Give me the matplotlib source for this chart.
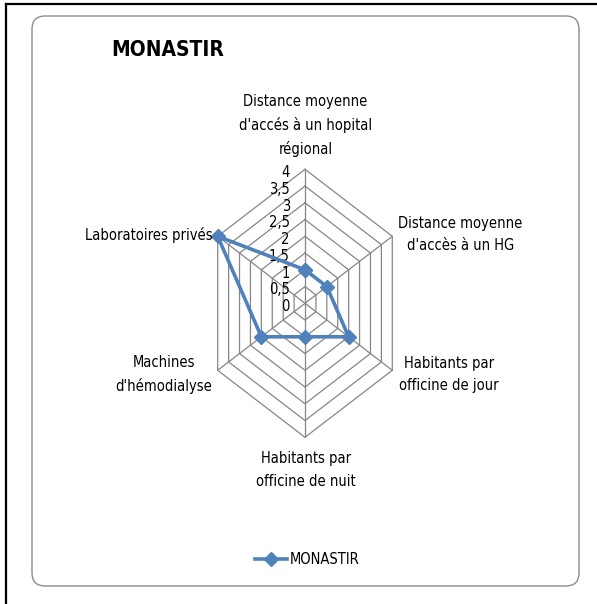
import matplotlib
matplotlib.use("Agg")
import matplotlib.pyplot as plt
import numpy as np
from matplotlib.patches import FancyBboxPatch
from matplotlib.lines import Line2D

plt.rcParams['font.family'] = ['Liberation Sans Narrow', 'DejaVu Sans']
plt.rcParams['font.stretch'] = 'condensed'

# data
categories = ["Distance moyenne\nd'accés à un hopital\nrégional",
              "Distance moyenne\nd'accès à un HG",
              "Habitants par\nofficine de jour",
              "Habitants par\nofficine de nuit",
              "Machines\nd'hémodialyse",
              "Laboratoires privés"]
values = [1, 1, 2, 1, 2, 4]
series_name = "MONASTIR"
ticks = [0, 0.5, 1, 1.5, 2, 2.5, 3, 3.5, 4]
tick_labels = ["0", "0,5", "1", "1,5", "2", "2,5", "3", "3,5", "4"]

W, H = 597, 604
blue = '#4F81BD'
grid_col = '#868686'
fs = 10.5

def fx(px):
    return px / W

def fy(py):
    return 1 - py / H

fig = plt.figure(figsize=(W / 100, H / 100), dpi=100)

# frame: black lines on left/top, rounded grey box
fig.add_artist(Line2D([fx(6), fx(6)], [fy(4), 0], color='black', lw=1.6, zorder=-2))
fig.add_artist(Line2D([fx(6), 1], [fy(4), fy(4)], color='black', lw=1.6, zorder=-2))
box = FancyBboxPatch((fx(32), fy(586)), fx(579) - fx(32), fy(16) - fy(586),
                     boxstyle="round,pad=0,rounding_size=0.022",
                     transform=fig.transFigure, facecolor='white',
                     edgecolor='#8C8C8C', lw=1.0, zorder=-1)
fig.add_artist(box)

# radar axes (x scaled narrower than y like the excel chart)
cx, cy = 305, 303.3
sx, sy = 25.2, 33.5   # px per data unit
ax = fig.add_axes([fx(cx - 6 * sx), fy(cy + 4.5 * sy), 12 * sx / W, 9 * sy / H])
ax.set_xlim(-6, 6)
ax.set_ylim(-4.5, 4.5)
ax.axis('off')
ax.set_zorder(2)

n = len(categories)
ang = np.arange(n) * 2 * np.pi / n
ux, uy = np.sin(ang), np.cos(ang)

for t in ticks[1:]:
    ax.plot(np.append(ux, ux[0]) * t, np.append(uy, uy[0]) * t,
            color=grid_col, lw=0.9, zorder=1)
for i in range(n):
    ax.plot([0, ux[i] * ticks[-1]], [0, uy[i] * ticks[-1]], color=grid_col, lw=0.9, zorder=1)

for t, lab in zip(ticks, tick_labels):
    ax.text(-0.6, t - 0.1, lab, ha='right', va='center', fontsize=fs)

v = np.array(values, dtype=float)
ax.plot(np.append(ux * v, ux[0] * v[0]), np.append(uy * v, uy[0] * v[0]),
        color=blue, lw=2.6, marker='D', ms=7.5, zorder=3, clip_on=False)

# category labels (pixel positions from the chart)
lab_pos = [(305.5, 125.5, 'center'), (398, 234.5, 'left'), (399, 374.5, 'left'),
           (306, 470, 'center'), (212, 374.5, 'right'), (213, 235, 'right')]
for lab, (px, py, ha) in zip(categories, lab_pos):
    fig.text(fx(px), fy(py), lab, ha=ha, va='center', fontsize=fs,
             multialignment='center', linespacing=1.62)

fig.text(fx(111), fy(50.5), series_name, fontsize=15, fontweight='bold', ha='left', va='center')

h = Line2D([], [], color=blue, lw=2.6, marker='D', ms=7.5)
fig.legend([h], [series_name], loc='center', bbox_to_anchor=(fx(307), fy(560)),
           frameon=False, fontsize=fs, handlelength=2.2, handletextpad=0.2)

fig.savefig("out.png", dpi=100)
